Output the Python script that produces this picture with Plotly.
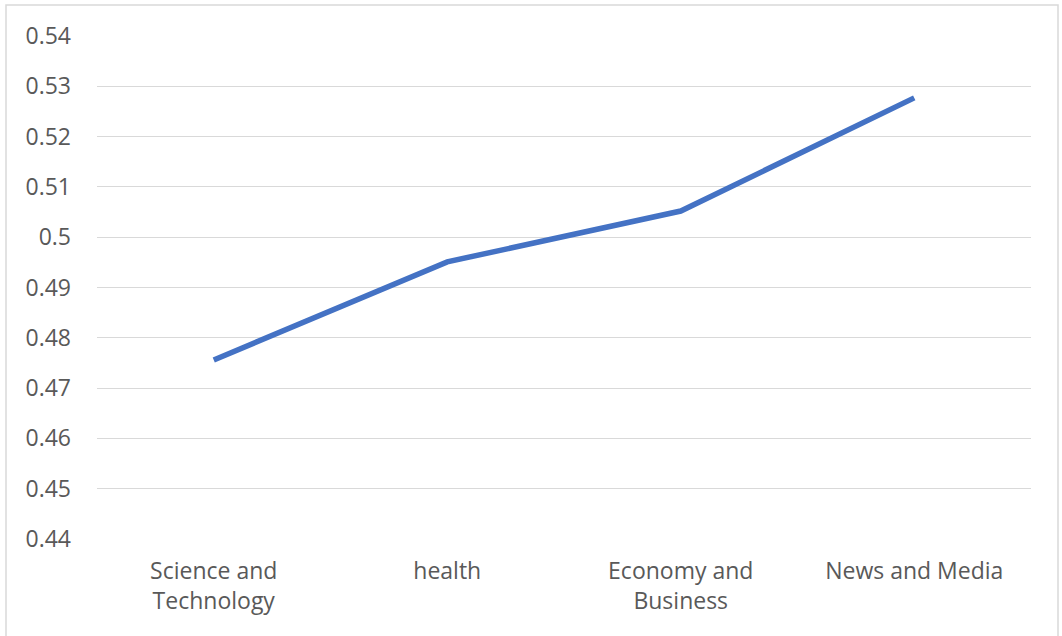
import plotly.graph_objects as go

categories = ["Science and<br>Technology", "health", "Economy and<br>Business", "News and Media"]
values = [0.4756, 0.4951, 0.5052, 0.5277]
y_ticks = [0.44, 0.45, 0.46, 0.47, 0.48, 0.49, 0.50, 0.51, 0.52, 0.53, 0.54]
y_tick_labels = ["0.44", "0.45", "0.46", "0.47", "0.48", "0.49", "0.5", "0.51", "0.52", "0.53", "0.54"]

W, H = 1062, 636
ml, mr, mt, mb = 97, 31, 36, 97
pw, ph = W - ml - mr, H - mt - mb

fig = go.Figure()
fig.add_trace(go.Scatter(
    x=list(range(len(categories))), y=values, mode="lines",
    line=dict(color="#4472C4", width=5.5),
    hoverinfo="skip",
))

font = dict(family="Open Sans, Noto Sans, sans-serif", size=23, color="#595959")

fig.update_layout(
    width=W, height=H,
    margin=dict(l=ml, r=mr, t=mt, b=mb, pad=0),
    paper_bgcolor="white", plot_bgcolor="white",
    showlegend=False,
    font=font,
    xaxis=dict(
        range=[-0.5, len(categories) - 0.5],
        tickmode="array", tickvals=list(range(len(categories))), ticktext=categories,
        showgrid=False, zeroline=False, showline=False,
        ticks="", ticklabelstandoff=16,
        tickfont=font, fixedrange=True,
    ),
    yaxis=dict(
        range=[0.44, 0.54],
        tickmode="array", tickvals=y_ticks, ticktext=y_tick_labels,
        showgrid=True, gridcolor="#D9D9D9", gridwidth=1.3,
        zeroline=False, showline=False,
        ticks="", ticklabelstandoff=25,
        tickfont=font, fixedrange=True,
    ),
    shapes=[dict(
        type="rect", xref="paper", yref="paper",
        x0=(6 - ml) / pw, x1=(1058 - ml) / pw,
        y0=(H - mb - 660) / ph, y1=(H - mb - 5) / ph,
        line=dict(color="#D9D9D9", width=1.5), fillcolor="rgba(0,0,0,0)", layer="below",
    )],
)

fig.write_html("out.html")
